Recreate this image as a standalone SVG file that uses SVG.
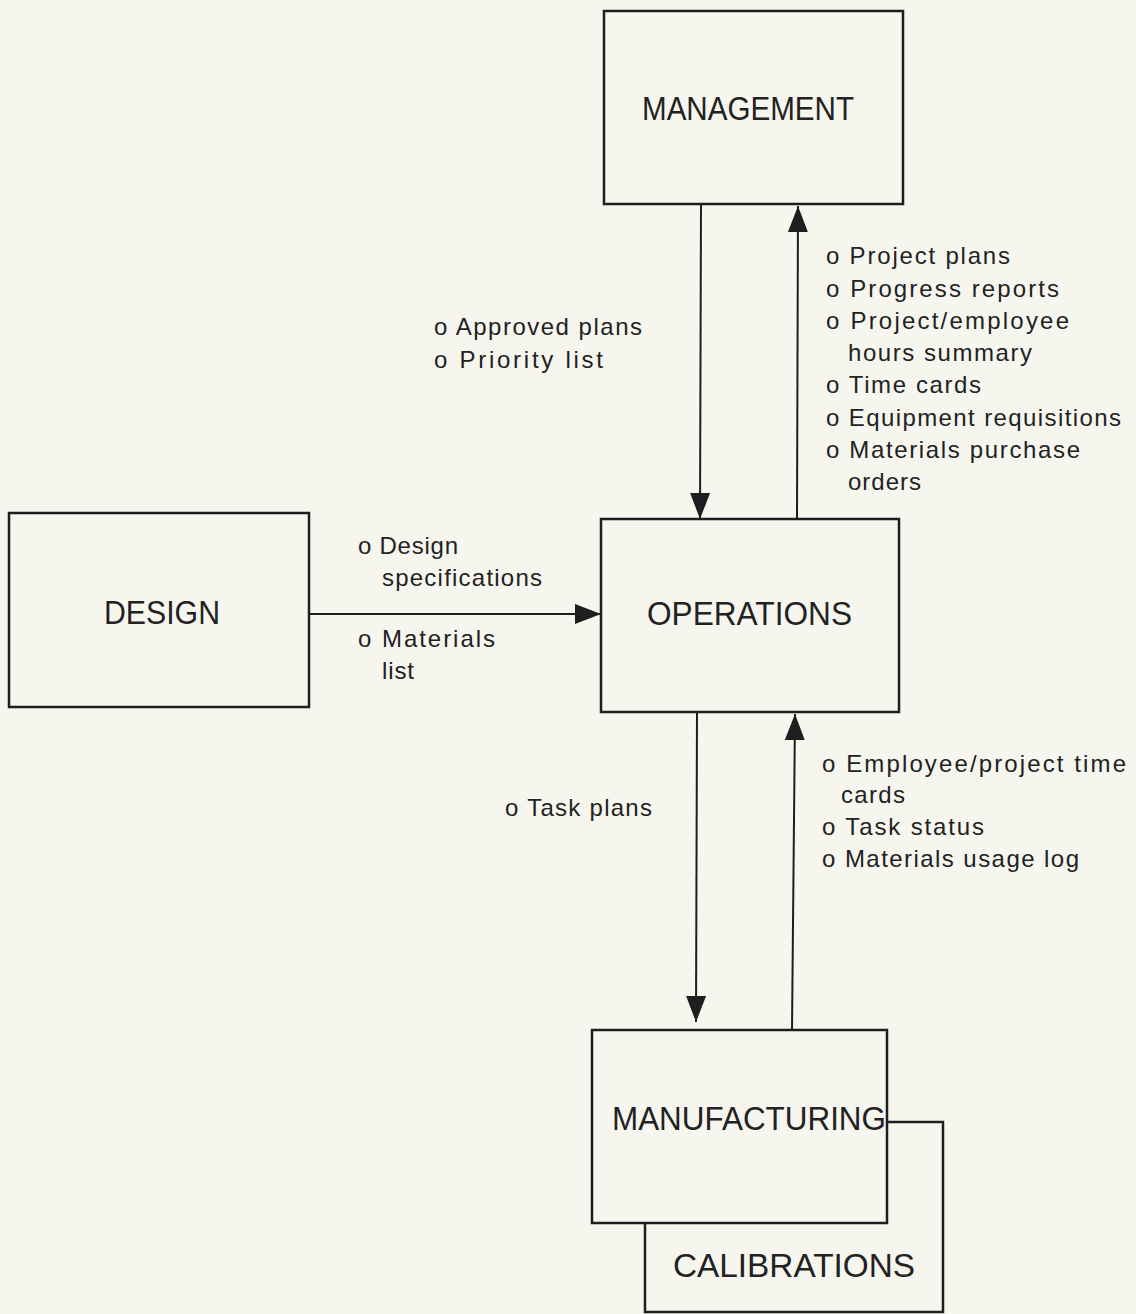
<svg xmlns="http://www.w3.org/2000/svg" width="1136" height="1314" viewBox="0 0 1136 1314">
<style>
.box{fill:#f6f6ef;stroke:#1e1e1e;stroke-width:2.5}
.name{font-family:"Liberation Sans",Arial,sans-serif;font-size:34px;fill:#222}
.lbl{font-family:"Liberation Sans",Arial,sans-serif;font-size:24px;fill:#222}
.conn{stroke:#1e1e1e;stroke-width:2;fill:none}
</style>
<defs>
<marker id="ah" markerUnits="userSpaceOnUse" markerWidth="28" markerHeight="22" refX="26" refY="11" orient="auto" viewBox="0 0 28 22">
<path d="M0,1 L26,11 L0,21 z" fill="#1e1e1e"/>
</marker>
</defs>
<rect width="1136" height="1314" fill="#f6f6ef"/>
<g id="connectors">
<line class="conn" x1="701" y1="204" x2="700" y2="519" marker-end="url(#ah)"/>
<line class="conn" x1="797" y1="519" x2="798" y2="206" marker-end="url(#ah)"/>
<line class="conn" x1="309" y1="614" x2="601" y2="614" marker-end="url(#ah)"/>
<line class="conn" x1="697" y1="712" x2="696" y2="1022" marker-end="url(#ah)"/>
<line class="conn" x1="792" y1="1030" x2="795" y2="714" marker-end="url(#ah)"/>
</g>
<g id="calibrations">
<rect class="box" x="645" y="1122" width="298" height="190"/>
<text class="name" x="673" y="1277" textLength="242" lengthAdjust="spacingAndGlyphs">CALIBRATIONS</text>
</g>
<g id="management">
<rect class="box" x="604" y="11" width="299" height="193"/>
<text class="name" x="642" y="120" textLength="212" lengthAdjust="spacingAndGlyphs">MANAGEMENT</text>
</g>
<g id="operations">
<rect class="box" x="601" y="519" width="298" height="193"/>
<text class="name" x="647" y="625" textLength="205" lengthAdjust="spacingAndGlyphs">OPERATIONS</text>
</g>
<g id="design">
<rect class="box" x="9" y="513" width="300" height="194"/>
<text class="name" x="104" y="624" textLength="116" lengthAdjust="spacingAndGlyphs">DESIGN</text>
</g>
<g id="manufacturing">
<rect class="box" x="592" y="1030" width="295" height="193"/>
<text class="name" x="612" y="1130" textLength="274" lengthAdjust="spacingAndGlyphs">MANUFACTURING</text>
</g>
<g id="labels">
<text class="lbl" x="434" y="335" textLength="208" lengthAdjust="spacing">o Approved plans</text>
<text class="lbl" x="434" y="368" textLength="169" lengthAdjust="spacing">o  Priority  list</text>
<text class="lbl" x="826" y="264" textLength="184" lengthAdjust="spacing">o Project plans</text>
<text class="lbl" x="826" y="297" textLength="233" lengthAdjust="spacing">o Progress reports</text>
<text class="lbl" x="826" y="329" textLength="243" lengthAdjust="spacing">o  Project/employee</text>
<text class="lbl" x="848" y="361" textLength="184" lengthAdjust="spacing">hours summary</text>
<text class="lbl" x="826" y="393" textLength="155" lengthAdjust="spacing">o Time cards</text>
<text class="lbl" x="826" y="426" textLength="295" lengthAdjust="spacing">o Equipment requisitions</text>
<text class="lbl" x="826" y="458" textLength="254" lengthAdjust="spacing">o Materials purchase</text>
<text class="lbl" x="848" y="490" textLength="73" lengthAdjust="spacing">orders</text>
<text class="lbl" x="358" y="554" textLength="100" lengthAdjust="spacing">o Design</text>
<text class="lbl" x="382" y="586" textLength="160" lengthAdjust="spacing">specifications</text>
<text class="lbl" x="358" y="647" textLength="137" lengthAdjust="spacing">o  Materials</text>
<text class="lbl" x="382" y="679" textLength="32" lengthAdjust="spacing">list</text>
<text class="lbl" x="505" y="816" textLength="147" lengthAdjust="spacing">o Task plans</text>
<text class="lbl" x="822" y="772" textLength="304" lengthAdjust="spacing">o  Employee/project  time</text>
<text class="lbl" x="841" y="803" textLength="64" lengthAdjust="spacing">cards</text>
<text class="lbl" x="822" y="835" textLength="162" lengthAdjust="spacing">o Task status</text>
<text class="lbl" x="822" y="867" textLength="257" lengthAdjust="spacing">o Materials usage log</text>
</g>
</svg>
